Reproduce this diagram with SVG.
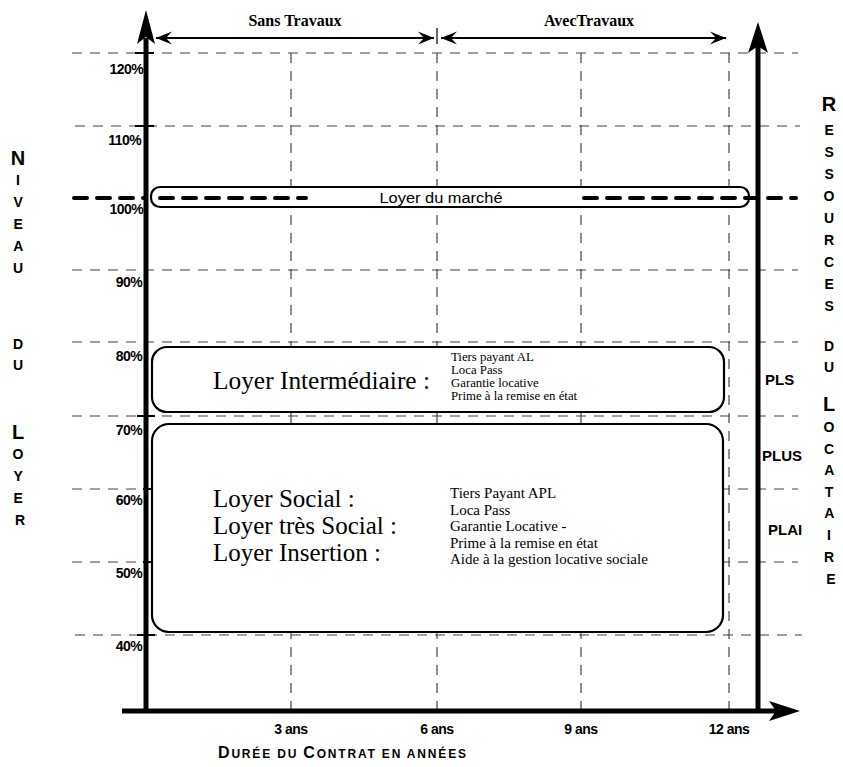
<svg xmlns="http://www.w3.org/2000/svg" width="843" height="767" viewBox="0 0 843 767">
<defs>
<style>
.grid{stroke:#444;stroke-width:1.2;stroke-dasharray:10 8;fill:none}
.axis{stroke:#000;stroke-width:5;fill:none}
.tick{stroke:#000;stroke-width:2}
.box{fill:#fff;stroke:#000;stroke-width:2.2}
.market{stroke:#000;stroke-width:4;stroke-dasharray:13 10;stroke-linecap:round;fill:none}
.span{stroke:#000;stroke-width:2;fill:none}
.pct{font-family:"Liberation Sans",Arial,sans-serif;font-weight:bold;font-size:14px;letter-spacing:-0.6px;text-anchor:end;fill:#000}
.vert{font-family:"Liberation Sans",Arial,sans-serif;font-weight:bold;font-size:14px;text-anchor:middle;fill:#000}
.big{font-size:20px}
.head{font-family:"Liberation Serif","Times New Roman",serif;font-weight:bold;font-size:16px;text-anchor:middle;fill:#000}
.ttl{font-family:"Liberation Serif","Times New Roman",serif;font-size:25px;fill:#000}
.sm1{font-family:"Liberation Serif","Times New Roman",serif;font-size:12.8px;fill:#000}
.sm2{font-family:"Liberation Serif","Times New Roman",serif;font-size:15px;fill:#000}
.ans{font-family:"Liberation Sans",Arial,sans-serif;font-weight:bold;font-size:14px;letter-spacing:-0.5px;text-anchor:middle;fill:#000}
.plx{font-family:"Liberation Sans",Arial,sans-serif;font-weight:bold;font-size:15px;fill:#000}
.mk{font-family:"Liberation Sans",Arial,sans-serif;font-size:14px;fill:#000}
.dur{font-family:"Liberation Sans",Arial,sans-serif;font-weight:bold;font-size:12px;fill:#000}
</style>
<marker id="ah" viewBox="-17 -7 18 14" refX="0" refY="0" markerWidth="18" markerHeight="14" markerUnits="userSpaceOnUse" orient="auto-start-reverse">
<path d="M0,0 L-16,-6.5 L-10,0 L-16,6.5 Z" fill="#000"/>
</marker>
</defs>
<rect width="843" height="767" fill="#fff"/>

<g id="grid">
<line class="grid" x1="72" y1="53" x2="798" y2="53"/>
<line class="grid" x1="75" y1="126" x2="800" y2="126"/>
<line class="grid" x1="72" y1="270" x2="798" y2="270"/>
<line class="grid" x1="72" y1="342" x2="798" y2="342"/>
<line class="grid" x1="72" y1="416" x2="798" y2="416"/>
<line class="grid" x1="72" y1="489" x2="798" y2="489"/>
<line class="grid" x1="72" y1="562" x2="798" y2="562"/>
<line class="grid" x1="75" y1="635" x2="802" y2="635"/>
<line class="grid" x1="291" y1="53" x2="291" y2="711"/>
<line class="grid" x1="437" y1="53" x2="437" y2="711"/>
<line class="grid" x1="581" y1="53" x2="581" y2="711"/>
<line class="grid" x1="729" y1="53" x2="729" y2="711"/>
</g>

<g id="market">
<line class="market" x1="74" y1="198" x2="146" y2="198"/>
<rect class="box" x="151" y="187" width="598" height="20" rx="9"/>
<line class="market" x1="160" y1="198" x2="306" y2="198"/>
<line class="market" x1="584" y1="198" x2="796" y2="198"/>
<text class="mk" x="441" y="203" text-anchor="middle" textLength="123" lengthAdjust="spacingAndGlyphs">Loyer du marché</text>
</g>

<g id="intermediaire">
<rect class="box" x="152" y="347" width="572" height="65" rx="15"/>
<text class="ttl" x="213" y="389" textLength="217" lengthAdjust="spacingAndGlyphs">Loyer Intermédiaire :</text>
<text class="sm1" x="451" y="361">Tiers payant AL</text>
<text class="sm1" x="451" y="374">Loca Pass</text>
<text class="sm1" x="451" y="387">Garantie locative</text>
<text class="sm1" x="451" y="400">Prime à la remise en état</text>
</g>

<g id="social">
<rect class="box" x="152" y="424" width="571" height="208" rx="17"/>
<text class="ttl" x="213" y="507">Loyer Social :</text>
<text class="ttl" x="213" y="534">Loyer très Social :</text>
<text class="ttl" x="213" y="561">Loyer Insertion :</text>
<text class="sm2" x="450" y="498">Tiers Payant APL</text>
<text class="sm2" x="450" y="514.5">Loca Pass</text>
<text class="sm2" x="450" y="531">Garantie Locative -</text>
<text class="sm2" x="450" y="547.5">Prime à la remise en état</text>
<text class="sm2" x="450" y="564">Aide à la gestion locative sociale</text>
</g>

<g id="axes">
<line class="axis" x1="146" y1="38" x2="146" y2="713"/>
<polygon points="146,10 155,44 146,37 137,44" fill="#000"/>
<line class="axis" x1="758" y1="46" x2="758" y2="713"/>
<polygon points="758,22 768,53 758,46 748,53" fill="#000"/>
<line class="axis" x1="122" y1="711" x2="776" y2="711"/>
<polygon points="800,711 769,701 776,711 769,721" fill="#000"/>
<line class="tick" x1="135" y1="53" x2="154" y2="53"/>
<line class="tick" x1="135" y1="126" x2="154" y2="126"/>
<line class="tick" x1="137" y1="416" x2="155" y2="416"/>
<line class="tick" x1="143" y1="489" x2="153" y2="489"/>
<line class="tick" x1="143" y1="562" x2="153" y2="562"/>
<line class="tick" x1="137" y1="635" x2="155" y2="635"/>
</g>

<g id="connectors">
<line class="span" x1="156" y1="38" x2="434" y2="38" marker-start="url(#ah)" marker-end="url(#ah)"/>
<line class="span" x1="441" y1="38" x2="726" y2="38" marker-start="url(#ah)" marker-end="url(#ah)"/>
<line class="tick" x1="437" y1="28" x2="437" y2="44" style="stroke-width:1.2"/>
</g>

<g id="headers">
<text class="head" x="295" y="26">Sans Travaux</text>
<text class="head" x="589" y="26">AvecTravaux</text>
</g>

<g id="percent-labels">
<text class="pct" x="143" y="74">120%</text>
<text class="pct" x="141" y="145">110%</text>
<text class="pct" x="143" y="214">100%</text>
<text class="pct" x="142" y="287">90%</text>
<text class="pct" x="142" y="361">80%</text>
<text class="pct" x="142" y="435">70%</text>
<text class="pct" x="142" y="505">60%</text>
<text class="pct" x="142" y="578">50%</text>
<text class="pct" x="142" y="651">40%</text>
</g>

<g id="niveau-du-loyer">
<text class="vert">
<tspan class="big" x="20" y="165">N</tspan>
<tspan x="20" y="185">I</tspan>
<tspan x="20" y="207">V</tspan>
<tspan x="20" y="229">E</tspan>
<tspan x="20" y="251">A</tspan>
<tspan x="20" y="273">U</tspan>
<tspan x="20" y="349">D</tspan>
<tspan x="20" y="370">U</tspan>
<tspan class="big" x="20" y="439">L</tspan>
<tspan x="20" y="459">O</tspan>
<tspan x="20" y="481">Y</tspan>
<tspan x="20" y="503">E</tspan>
<tspan x="20" y="525">R</tspan>
</text>
</g>

<g id="ressources-du-locataire">
<text class="vert">
<tspan class="big" x="831" y="111">R</tspan>
<tspan x="831" y="135">E</tspan>
<tspan x="831" y="157">S</tspan>
<tspan x="831" y="179">S</tspan>
<tspan x="831" y="201">O</tspan>
<tspan x="831" y="223">U</tspan>
<tspan x="831" y="245">R</tspan>
<tspan x="831" y="267">C</tspan>
<tspan x="831" y="289">E</tspan>
<tspan x="831" y="311">S</tspan>
<tspan x="831" y="351">D</tspan>
<tspan x="831" y="372">U</tspan>
<tspan class="big" x="831" y="411">L</tspan>
<tspan x="831" y="432">O</tspan>
<tspan x="831" y="454">C</tspan>
<tspan x="831" y="475">A</tspan>
<tspan x="831" y="497">T</tspan>
<tspan x="831" y="518">A</tspan>
<tspan x="831" y="540">I</tspan>
<tspan x="831" y="562">R</tspan>
<tspan x="831" y="584">E</tspan>
</text>
</g>

<g id="plafonds">
<text class="plx" x="765" y="385">PLS</text>
<text class="plx" x="762" y="461">PLUS</text>
<text class="plx" x="768" y="535">PLAI</text>
</g>

<g id="duree">
<text class="ans" x="291" y="734">3 ans</text>
<text class="ans" x="437" y="734">6 ans</text>
<text class="ans" x="581" y="734">9 ans</text>
<text class="ans" x="729" y="734">12 ans</text>
<text class="dur" x="218" y="758" textLength="248" lengthAdjust="spacing"><tspan style="font-size:16px">D</tspan>URÉE DU <tspan style="font-size:16px">C</tspan>ONTRAT EN ANNÉES</text>
</g>
</svg>
